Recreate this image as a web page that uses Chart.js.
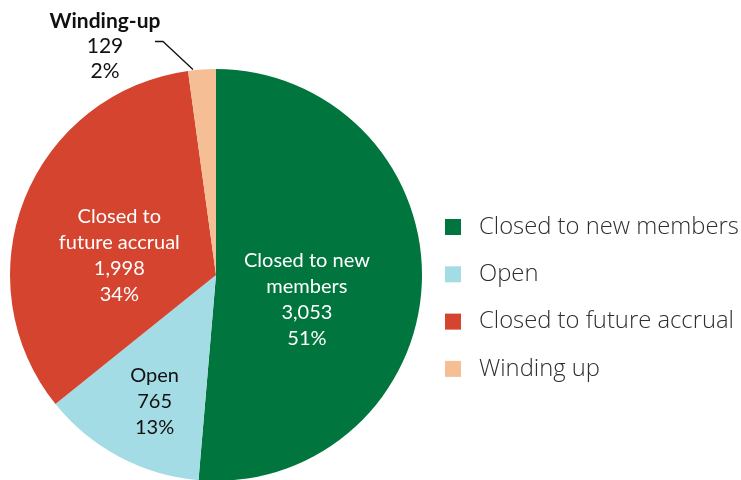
<!DOCTYPE html>
<html>
<head>
<meta charset="utf-8">
<script src="https://cdn.jsdelivr.net/npm/chart.js@4/dist/chart.umd.min.js"></script>
<style>
  html, body { margin: 0; padding: 0; background: #fff; overflow: hidden; }
  #wrap { width: 741px; height: 490px; }
</style>
</head>
<body>
<div id="wrap"><canvas id="pieChart" width="741" height="490"></canvas></div>
<script>
// data
var categories = ['Closed to new members', 'Open', 'Closed to future accrual', 'Winding up'];
var sliceNames = [['Closed to new', 'members'], ['Open'], ['Closed to', 'future accrual'], ['Winding-up']];
var schemeCounts = [3053, 765, 1998, 129];
var sliceColours = ['#00763e', '#a4dce5', '#d4442e', '#f5be94'];

var totalSchemes = schemeCounts.reduce(function(a, b) { return a + b; }, 0);

function fmt(n) {
  return n.toLocaleString('en-GB');
}

// where the text sits relative to each slice's centre point
var labelStyle = [
  { dx: -12, dy: 20, colour: '#ffffff' },
  { dx: -13, dy: 36, colour: '#111111' },
  { dx: -1, dy: 19, colour: '#ffffff' },
  { outside: true, colour: '#111111' }
];

var LABEL_FONT = 'Lato, "Open Sans", sans-serif';
var LEGEND_FONT = '"Open Sans", "Noto Sans", sans-serif';

const sliceLabels = {
  id: 'sliceLabels',
  afterDatasetsDraw(chart) {
    var ctx = chart.ctx;
    var arcs = chart.getDatasetMeta(0).data;
    ctx.save();
    ctx.textAlign = 'center';
    ctx.textBaseline = 'middle';
    arcs.forEach(function(arc, i) {
      var st = labelStyle[i];
      var v = schemeCounts[i];
      var lines = sliceNames[i].concat([fmt(v), Math.round(v / totalSchemes * 100) + '%']);
      var x, y;
      if (st.outside) {
        var p = arc.getProps(['x', 'y', 'startAngle', 'endAngle', 'outerRadius']);
        var mid = (p.startAngle + p.endAngle) / 2;
        var ex = p.x + Math.cos(mid) * p.outerRadius - 9;
        var ey = p.y + Math.sin(mid) * p.outerRadius;
        ctx.strokeStyle = '#111';
        ctx.lineWidth = 1.3;
        ctx.beginPath();
        ctx.moveTo(ex, ey);
        ctx.lineTo(ex - 30, ey - 28);
        ctx.lineTo(ex - 38, ey - 28);
        ctx.stroke();
        x = ex - 88;
        y = ey - 23;
        ctx.fillStyle = st.colour;
        ctx.font = 'bold 21px ' + LABEL_FONT;
        ctx.fillText(lines[0], x, y - 25);
        ctx.font = '21px ' + LABEL_FONT;
        ctx.fillText(lines[1], x, y);
        ctx.fillText(lines[2], x, y + 25);
        return;
      }
      var c = arc.getCenterPoint();
      x = c.x + st.dx;
      y = c.y + st.dy;
      var lh = 26;
      var top = y - (lines.length - 1) * lh / 2;
      ctx.fillStyle = st.colour;
      ctx.font = '20px ' + LABEL_FONT;
      lines.forEach(function(t, k) {
        ctx.fillText(t, x, top + k * lh);
      });
    });
    ctx.restore();
  }
};

const sideLegend = {
  id: 'sideLegend',
  afterDraw(chart) {
    var ctx = chart.ctx;
    ctx.save();
    ctx.textBaseline = 'middle';
    ctx.textAlign = 'left';
    ctx.font = '300 23.8px ' + LEGEND_FONT;
    chart.data.labels.forEach(function(lab, i) {
      var y = 227 + i * 47.3;
      ctx.fillStyle = chart.data.datasets[0].backgroundColor[i];
      ctx.fillRect(445, y - 8, 16, 16);
      ctx.fillStyle = '#2e2e2e';
      ctx.fillText(lab, 479, y);
    });
    ctx.restore();
  }
};

const ctx = document.getElementById('pieChart');
const pie = new Chart(ctx, {
  type: 'pie',
  data: {
    labels: categories,
    datasets: [{
      data: schemeCounts,
      backgroundColor: sliceColours,
      borderWidth: 0
    }]
  },
  options: {
    responsive: false,
    animation: false,
    devicePixelRatio: 1,
    layout: { padding: { left: 10, top: 69, right: 319, bottom: 9 } },
    plugins: {
      legend: { display: false },
      tooltip: { enabled: false }
    }
  },
  plugins: [sliceLabels, sideLegend]
});
</script>
</body>
</html>
